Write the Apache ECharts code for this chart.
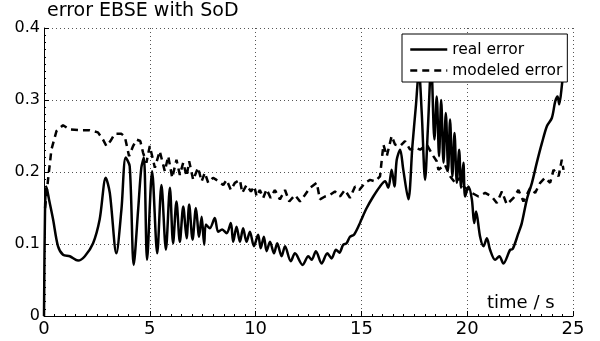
<!DOCTYPE html>
<html>
<head>
<meta charset="utf-8">
<script src="https://cdn.jsdelivr.net/npm/echarts@6/dist/echarts.min.js"></script>
<style>
  html, body { margin: 0; padding: 0; background: #fff; }
  #chart { width: 600px; height: 341px; }
</style>
</head>
<body>
<div id="chart"></div>
<script>
// [time in s, error]
const realError = [
  [0, 0], [0.05, 0.15], [0.11, 0.18], [0.25, 0.16], [0.43, 0.134], [0.66, 0.097], [0.9, 0.085],
  [1.22, 0.083], [1.61, 0.077], [1.93, 0.083], [2.32, 0.101], [2.63, 0.134], [2.92, 0.192],
  [3.11, 0.171], [3.42, 0.087], [3.66, 0.148], [3.86, 0.22], [4.05, 0.208], [4.24, 0.071],
  [4.45, 0.148], [4.6, 0.206], [4.72, 0.22], [4.87, 0.078], [5.11, 0.201], [5.35, 0.087],
  [5.55, 0.182], [5.76, 0.092], [5.95, 0.178], [6.1, 0.101], [6.26, 0.159], [6.42, 0.103],
  [6.58, 0.152], [6.74, 0.108], [6.86, 0.155], [7.02, 0.106], [7.18, 0.15], [7.33, 0.11],
  [7.45, 0.138], [7.57, 0.099], [7.65, 0.127], [7.84, 0.122], [8.07, 0.136], [8.23, 0.117],
  [8.42, 0.12], [8.63, 0.115], [8.83, 0.129], [8.94, 0.103], [9.1, 0.124], [9.26, 0.103],
  [9.41, 0.122], [9.57, 0.103], [9.73, 0.117], [9.92, 0.097], [10.12, 0.113], [10.24, 0.094],
  [10.39, 0.11], [10.52, 0.09], [10.68, 0.103], [10.87, 0.087], [11.02, 0.101], [11.23, 0.083],
  [11.39, 0.097], [11.66, 0.076], [11.86, 0.087], [12.22, 0.071], [12.49, 0.083], [12.65, 0.078],
  [12.85, 0.09], [13.12, 0.073], [13.39, 0.087], [13.59, 0.08], [13.8, 0.092], [13.96, 0.088],
  [14.14, 0.099], [14.3, 0.101], [14.46, 0.11], [14.65, 0.113], [14.9, 0.127], [15.0, 0.134],
  [15.25, 0.15], [15.56, 0.166], [15.88, 0.18], [16.12, 0.187], [16.27, 0.178], [16.43, 0.203],
  [16.56, 0.18], [16.67, 0.217], [16.83, 0.231], [16.98, 0.203], [17.22, 0.162], [17.41, 0.236],
  [17.57, 0.29], [17.72, 0.34], [17.85, 0.283], [18.01, 0.189], [18.14, 0.259], [18.3, 0.35],
  [18.45, 0.245], [18.56, 0.305], [18.67, 0.222], [18.77, 0.3], [18.88, 0.213], [18.99, 0.282],
  [19.1, 0.203], [19.19, 0.273], [19.3, 0.194], [19.4, 0.254], [19.51, 0.185], [19.62, 0.231],
  [19.71, 0.178], [19.82, 0.213], [19.9, 0.166], [20.06, 0.18], [20.22, 0.162], [20.33, 0.129],
  [20.42, 0.145], [20.61, 0.11], [20.77, 0.097], [20.93, 0.108], [21.08, 0.092], [21.32, 0.078],
  [21.52, 0.083], [21.71, 0.073], [22.03, 0.092], [22.15, 0.093], [22.42, 0.115], [22.58, 0.129],
  [22.82, 0.162], [23.06, 0.185], [23.29, 0.213], [23.53, 0.24], [23.77, 0.264], [24.0, 0.275],
  [24.16, 0.298], [24.27, 0.305], [24.35, 0.294], [24.47, 0.319], [24.6, 0.36]
];

const modeledError = [
  [0.05, 0.15], [0.19, 0.189], [0.35, 0.231], [0.59, 0.257], [0.9, 0.265], [1.22, 0.259],
  [1.69, 0.258], [2.16, 0.258], [2.55, 0.255], [2.79, 0.245], [2.95, 0.236], [3.14, 0.243],
  [3.34, 0.253], [3.66, 0.253], [3.82, 0.249], [4.02, 0.222], [4.21, 0.236], [4.37, 0.245],
  [4.55, 0.243], [4.68, 0.227], [4.84, 0.213], [5.0, 0.236], [5.08, 0.238], [5.24, 0.206],
  [5.47, 0.229], [5.71, 0.201], [5.87, 0.222], [6.06, 0.192], [6.26, 0.217], [6.42, 0.196],
  [6.58, 0.213], [6.74, 0.194], [6.86, 0.215], [7.05, 0.189], [7.28, 0.206], [7.45, 0.187],
  [7.6, 0.199], [7.76, 0.185], [7.99, 0.192], [8.15, 0.189], [8.47, 0.182], [8.63, 0.189],
  [8.83, 0.175], [9.02, 0.185], [9.26, 0.189], [9.37, 0.171], [9.57, 0.182], [9.78, 0.173],
  [9.94, 0.18], [10.05, 0.166], [10.2, 0.175], [10.36, 0.164], [10.52, 0.176], [10.71, 0.164],
  [10.91, 0.175], [11.15, 0.162], [11.39, 0.175], [11.59, 0.159], [11.86, 0.168], [12.1, 0.159],
  [12.33, 0.168], [12.57, 0.178], [12.89, 0.185], [13.04, 0.162], [13.28, 0.166], [13.51, 0.168],
  [13.75, 0.173], [13.99, 0.166], [14.22, 0.175], [14.46, 0.164], [14.7, 0.18], [14.9, 0.175],
  [15.17, 0.185], [15.41, 0.189], [15.65, 0.187], [15.88, 0.194], [16.04, 0.238], [16.2, 0.222],
  [16.43, 0.25], [16.59, 0.238], [16.83, 0.236], [17.06, 0.243], [17.3, 0.231], [17.54, 0.234],
  [17.78, 0.231], [18.09, 0.238], [18.4, 0.222], [18.56, 0.215], [18.64, 0.203], [18.95, 0.21],
  [19.19, 0.194], [19.43, 0.185], [19.66, 0.192], [19.82, 0.18], [20.22, 0.171], [20.53, 0.166],
  [20.85, 0.171], [21.16, 0.166], [21.4, 0.157], [21.64, 0.173], [21.87, 0.155], [22.19, 0.164],
  [22.42, 0.175], [22.66, 0.159], [22.98, 0.178], [23.21, 0.171], [23.45, 0.185], [23.68, 0.192],
  [23.92, 0.185], [24.08, 0.203], [24.32, 0.194], [24.47, 0.217], [24.55, 0.203]
];

const seriesNames = ['real error', 'modeled error'];
const chartTitle = 'error EBSE with SoD';
const xLabel = 'time / s';

const FONT = 'DejaVu Sans';

const chart = echarts.init(document.getElementById('chart'), null, { renderer: 'canvas' });

const gridLine = { show: true, lineStyle: { color: '#555', width: 1, type: [1, 3] } };

chart.setOption({
  backgroundColor: '#ffffff',
  animation: false,
  title: [
    {
      text: chartTitle,
      left: 47,
      top: 2,
      padding: 0,
      textStyle: { fontFamily: FONT, fontSize: 19, fontWeight: 'normal', color: '#000' }
    },
    {
      text: xLabel,
      left: 487,
      top: 294,
      padding: 0,
      textStyle: { fontFamily: FONT, fontSize: 18, fontWeight: 'normal', color: '#000' }
    }
  ],
  legend: {
    orient: 'vertical',
    left: 402,
    top: 34,
    padding: [5, 5, 1, 7],
    itemWidth: 37,
    itemHeight: 21,
    itemGap: 0,
    borderColor: '#000',
    borderWidth: 1,
    backgroundColor: '#fff',
    z: 10,
    itemStyle: { opacity: 0 },
    lineStyle: { width: 2.5 },
    textStyle: { fontFamily: FONT, fontSize: 15.5, color: '#000', lineHeight: 21 },
    data: seriesNames
  },
  grid: { left: 44, right: 27, top: 28, bottom: 25, containLabel: false },
  xAxis: {
    type: 'value',
    min: 0,
    max: 25,
    interval: 5,
    axisLine: { show: true, onZero: false, lineStyle: { color: '#000', width: 1 } },
    axisTick: { show: true, inside: true, length: 5, lineStyle: { color: '#000' } },
    minorTick: { show: true, splitNumber: 10, length: 2, lineStyle: { color: '#000' } },
    axisLabel: { fontFamily: FONT, fontSize: 18, color: '#000', margin: 4 },
    splitLine: gridLine
  },
  yAxis: {
    type: 'value',
    min: 0,
    max: 0.4,
    interval: 0.1,
    axisLine: { show: true, onZero: false, lineStyle: { color: '#000', width: 1 } },
    axisTick: { show: true, inside: true, length: 5, lineStyle: { color: '#000' } },
    minorTick: { show: true, splitNumber: 10, length: 2, lineStyle: { color: '#000' } },
    axisLabel: {
      fontFamily: FONT, fontSize: 16, color: '#000', margin: 4,
      formatter: v => (v === 0 ? '0' : v.toFixed(1))
    },
    splitLine: gridLine
  },
  series: [
    {
      name: seriesNames[0],
      type: 'line',
      data: realError,
      showSymbol: false,
      smooth: 0.3,
      color: '#000',
      lineStyle: { color: '#000', width: 2.5 }
    },
    {
      name: seriesNames[1],
      type: 'line',
      data: modeledError,
      showSymbol: false,
      color: '#000',
      lineStyle: { color: '#000', width: 2.5, type: [7, 5] }
    }
  ]
});
</script>
</body>
</html>
